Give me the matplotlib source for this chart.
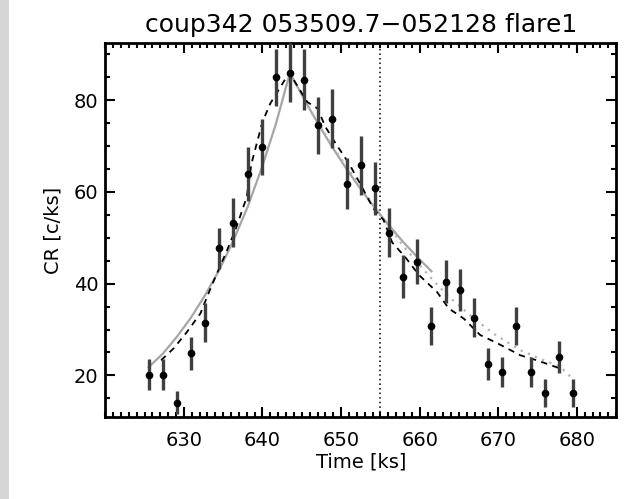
import matplotlib.pyplot as plt
from matplotlib.patches import Rectangle
from matplotlib.ticker import MultipleLocator, FixedLocator

# light curve bins
time = [625.5, 627.3, 629.1, 630.9, 632.7, 634.5, 636.3, 638.1, 639.9, 641.7,
        643.5, 645.3, 647.1, 648.9, 650.7, 652.5, 654.3, 656.1, 657.9, 659.7,
        661.5, 663.3, 665.1, 666.9, 668.7, 670.5, 672.3, 674.1, 675.9, 677.7, 679.5]
rate = [20.2, 20.2, 14.0, 24.8, 31.5, 47.7, 53.3, 64.0, 69.8, 85.0,
        86.0, 84.5, 74.5, 76.0, 61.8, 65.8, 60.8, 51.1, 41.5, 44.8,
        30.8, 40.4, 38.7, 32.6, 22.4, 20.7, 30.8, 20.7, 16.2, 24.1, 16.2]
rate_err = [3.3, 3.3, 2.5, 3.6, 4.2, 4.4, 5.3, 5.9, 6.0, 6.2,
            6.5, 6.7, 6.3, 6.4, 5.6, 6.4, 5.8, 5.3, 4.7, 4.9,
            4.2, 4.7, 4.6, 4.2, 3.5, 3.3, 4.2, 3.3, 3.0, 3.5, 3.0]

# solid gray model (rise + decay)
fit_t = [625.5, 627.3, 629.1, 630.9, 632.7, 634.5, 636.3, 638.1, 639.9, 641.7,
         643.5, 645.3, 647.1, 648.9, 650.7, 652.5, 654.3, 656.1, 657.9, 659.7, 661.5]
fit_cr = [21.8, 24.7, 28.4, 32.6, 37.5, 43.0, 49.4, 56.7, 65.2, 74.8,
          86.0, 80.2, 74.8, 69.7, 65.0, 60.6, 56.5, 52.7, 49.1, 45.8, 42.7]

# dashed model
dash_t = [627.1, 628.7, 630.4, 632.1, 633.3, 634.4, 635.5, 636.7, 638.0, 638.6,
          640.0, 641.0, 643.4, 645.7, 647.0, 648.0, 649.3, 651.0, 652.3, 654.1,
          655.4, 656.5, 658.2, 659.9, 662.2, 663.7, 665.6, 667.7, 669.9, 672.8,
          674.9, 677.9]
dash_cr = [23.3, 25.9, 29.5, 33.5, 38.6, 43.0, 47.3, 52.4, 58.9, 66.2,
           75.3, 79.3, 86.0, 79.6, 78.2, 74.2, 70.6, 66.2, 62.2, 56.4,
           53.9, 49.0, 45.7, 41.9, 38.2, 34.6, 32.4, 28.8, 27.0, 24.4,
           23.3, 21.5]

# dotted gray model (decay only)
dot_t = [645.3, 648.9, 652.5, 655.0, 658.0, 661.3, 663.5, 666.9, 669.5, 672.8, 675.5, 677.9, 679.6]
dot_cr = [80.0, 70.0, 61.0, 55.0, 48.0, 41.5, 37.5, 32.4, 29.0, 25.5, 23.5, 21.9, 19.0]

t_split = 655.0
x_ticks = [630, 640, 650, 660, 670, 680]

fig = plt.figure(figsize=(6.4, 4.99), dpi=100)
fig.patches.append(Rectangle((0, 0), 9 / 640, 1, transform=fig.transFigure,
                             facecolor='#d6d6d6', edgecolor='none'))
ax = fig.add_axes([0.1645, 0.1649, 0.7983, 0.7483])

ax.plot(fit_t, fit_cr, color='#a6a6a6', lw=1.6, zorder=2)
ax.plot(dot_t, dot_cr, color='#b4b4b4', lw=1.6, ls=(0, (1, 2.5)), zorder=2)
ax.plot(dash_t, dash_cr, color='black', lw=1.3, ls=(0, (3.5, 3)), zorder=3)
ax.errorbar(time, rate, yerr=rate_err, fmt='o', color='black', ms=4.5,
            ecolor='#404040', elinewidth=2.4, capsize=0, zorder=4)
ax.axvline(t_split, color='black', lw=1.1, ls=(0, (1, 2)), zorder=1)

ax.set_xlim(620, 685)
ax.set_ylim(11, 92.4)
ax.xaxis.set_major_locator(FixedLocator(x_ticks))
ax.xaxis.set_minor_locator(MultipleLocator(1))
ax.yaxis.set_major_locator(MultipleLocator(20))
ax.yaxis.set_minor_locator(MultipleLocator(5))
ax.tick_params(which='both', direction='in', top=True, right=True,
               labelsize=14, width=1.5)
ax.tick_params(which='major', length=7)
ax.tick_params(which='minor', length=3.5)
ax.tick_params(axis='x', pad=10)
ax.tick_params(axis='y', pad=5)
for s in ax.spines.values():
    s.set_linewidth(2)

ax.set_xlabel('Time [ks]', fontsize=14, labelpad=2)
ax.set_ylabel('CR [c/ks]', fontsize=14, labelpad=8)
ax.set_title('coup342 053509.7\u2212052128 flare1', fontsize=18, pad=8)

fig.savefig('out.png', dpi=100)
